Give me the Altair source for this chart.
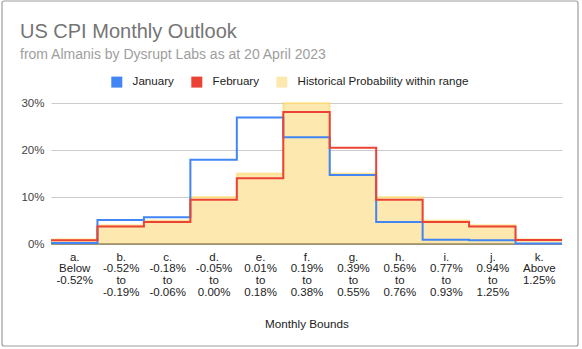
import json
import altair as alt
import pandas as pd

# ---- data ----
categories = ["a", "b", "c", "d", "e", "f", "g", "h", "i", "j", "k"]
tick_labels = [
    "a.|Below|-0.52%",
    "b.|-0.52%|to|-0.19%",
    "c.|-0.18%|to|-0.06%",
    "d.|-0.05%|to|0.00%",
    "e.|0.01%|to|0.18%",
    "f.|0.19%|to|0.38%",
    "g.|0.39%|to|0.55%",
    "h.|0.56%|to|0.76%",
    "i.|0.77%|to|0.93%",
    "j.|0.94%|to|1.25%",
    "k.|Above|1.25%",
]
january = [0.2, 5.1, 5.7, 17.9, 26.9, 22.7, 14.7, 4.7, 0.9, 0.8, 0.1]
february = [0.8, 3.7, 4.7, 9.4, 14.0, 28.1, 20.5, 9.4, 4.7, 3.7, 0.85]
historical = [1.0, 4.0, 5.0, 10.0, 15.0, 30.0, 15.0, 10.0, 5.0, 4.0, 1.0]
series_names = ["January", "February", "Historical Probability within range"]
series_colors = ["#4285f4", "#ea4335", "#fde8b0"]


def steps(name, vals):
    rows = [{"series": name, "x": i, "v": v / 100.0} for i, v in enumerate(vals)]
    rows.append({"series": name, "x": len(vals), "v": vals[-1] / 100.0})
    return rows


df = pd.DataFrame(
    steps("January", january)
    + steps("February", february)
    + steps("Historical Probability within range", historical)
)

FONT = "Liberation Sans"
label_expr = "split(" + json.dumps(tick_labels).replace('"', "'") + "[floor(datum.value)], '|')"

x_enc = alt.X(
    "x:Q",
    scale=alt.Scale(domain=[0, len(categories)], nice=False, zero=False),
    axis=alt.Axis(
        values=[i + 0.5 for i in range(len(categories))],
        labelExpr=label_expr,
        title="Monthly Bounds",
        grid=False,
        ticks=False,
        domain=False,
        labelFont=FONT,
        labelFontSize=11.5,
        labelColor="#222222",
        labelLineHeight=11.8,
        labelPadding=7,
        labelFlush=False,
        labelOverlap=False,
        titleFont=FONT,
        titleFontSize=11.7,
        titleFontWeight="normal",
        titleColor="#222222",
        titlePadding=21,
    ),
)
y_enc = alt.Y(
    "v:Q",
    scale=alt.Scale(domain=[0, 0.3], nice=False),
    axis=alt.Axis(
        values=[0, 0.1, 0.2, 0.3],
        format=".0%",
        title=None,
        ticks=False,
        domain=False,
        gridColor="#cccccc",
        labelFont=FONT,
        labelFontSize=11.5,
        labelColor="#444444",
        labelPadding=7,
    ),
)

base = alt.Chart(df)

area = base.transform_filter(
    alt.datum.series == "Historical Probability within range"
).mark_area(interpolate="step-after", opacity=1).encode(
    x=x_enc,
    y=y_enc,
    color=alt.Color(
        "series:N",
        scale=alt.Scale(domain=series_names, range=series_colors),
        legend=alt.Legend(
            title=None,
            orient="none",
            direction="horizontal",
            legendX=60,
            legendY=-27,
            symbolType="square",
            symbolSize=121,
            symbolStrokeWidth=0,
            labelFont=FONT,
            labelFontSize=11.6,
            labelColor="#222222",
            labelOffset=10,
            labelLimit=400,
            columnPadding=17,
        ),
    ),
)

area_edge = base.transform_filter(
    alt.datum.series == "Historical Probability within range"
).mark_line(interpolate="step-after", color="#fbbc04", opacity=0.3, strokeWidth=2).encode(
    x="x:Q", y="v:Q"
)

baseline = alt.Chart(pd.DataFrame({"v": [0.0]})).mark_rule(color="#6b5a26", strokeWidth=1).encode(
    y="v:Q", x=alt.value(0), x2=alt.value(511)
)

jan_line = base.transform_filter(alt.datum.series == "January").mark_line(
    interpolate="step-after", color="#4285f4", strokeWidth=2
).encode(x="x:Q", y="v:Q")

feb_line = base.transform_filter(alt.datum.series == "February").mark_line(
    interpolate="step-after", color="#ea4335", strokeWidth=2
).encode(x="x:Q", y="v:Q")

frame = alt.Chart(pd.DataFrame({"f": [0]})).mark_rect(
    fill="transparent", stroke="#9e9e9e", strokeWidth=1.2, cornerRadius=2
).encode(
    x=alt.value(-49), x2=alt.value(527), y=alt.value(-102), y2=alt.value(243)
)

chart = alt.layer(frame, area, area_edge, baseline, jan_line, feb_line).properties(
    width=511,
    height=141,
    autosize=alt.AutoSizeParams(type="none"),
    padding={"left": 51, "top": 103, "right": 20, "bottom": 105},
    title=alt.TitleParams(
        text="US CPI Monthly Outlook",
        subtitle="from Almanis by Dysrupt Labs as at 20 April 2023",
        anchor="start",
        frame="group",
        dx=-31,
        offset=-62,
        font=FONT,
        fontSize=20,
        fontWeight="normal",
        color="#757575",
        subtitleFont=FONT,
        subtitleFontSize=14,
        subtitleColor="#9e9e9e",
        subtitlePadding=6,
    ),
).configure_view(stroke=None)

chart.save("out.html", embed_options={"renderer": "svg", "actions": False})
